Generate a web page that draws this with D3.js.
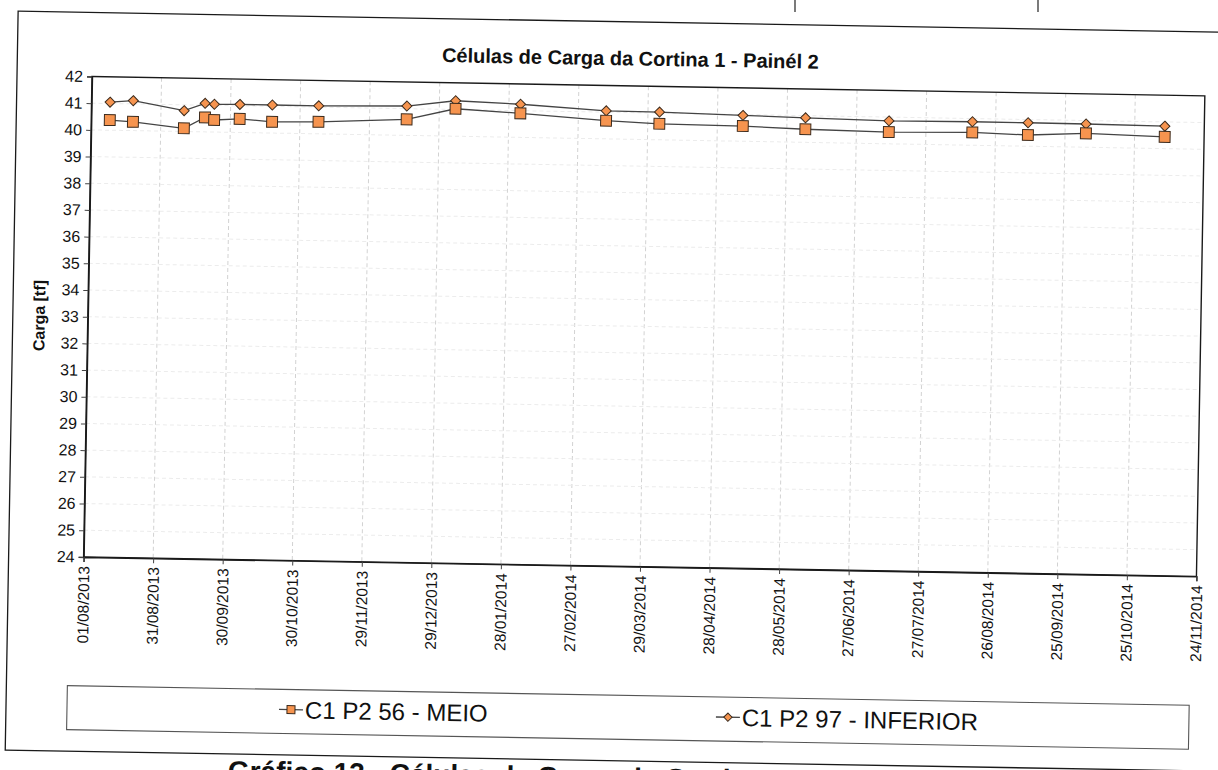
<!DOCTYPE html>
<html>
<head>
<meta charset="utf-8">
<script src="https://cdn.jsdelivr.net/npm/d3@7"></script>
<style>
  html, body { margin: 0; padding: 0; background: #fff; }
  svg { display: block; }
  text { font-family: "Liberation Sans", Arial, sans-serif; fill: #111; }
</style>
</head>
<body>
<svg id="chart" width="1218" height="770"></svg>
<script>
// Reading dates (dd/mm/yyyy)
const readingDates = [
  "09/08/2013", "19/08/2013", "10/09/2013", "19/09/2013", "23/09/2013",
  "04/10/2013", "18/10/2013", "07/11/2013", "15/12/2013", "05/01/2014",
  "02/02/2014", "11/03/2014", "03/04/2014", "09/05/2014", "05/06/2014",
  "11/07/2014", "16/08/2014", "09/09/2014", "04/10/2014", "07/11/2014"
];

// Load cell C1 P2 56 - MEIO [tf]
const meioValues = [
  40.38, 40.33, 40.12, 40.54, 40.45, 40.51, 40.42, 40.45, 40.60, 41.03,
  40.90, 40.68, 40.60, 40.57, 40.49, 40.44, 40.48, 40.42, 40.52, 40.44
];

// Load cell C1 P2 97 - INFERIOR [tf]
const inferiorValues = [
  41.05, 41.12, 40.78, 41.07, 41.04, 41.05, 41.05, 41.05, 41.10, 41.33,
  41.24, 41.05, 41.04, 40.97, 40.92, 40.86, 40.88, 40.88, 40.87, 40.84
];

// Date axis labels (30-day steps)
const xTickLabels = [
  "01/08/2013", "31/08/2013", "30/09/2013", "30/10/2013", "29/11/2013",
  "29/12/2013", "28/01/2014", "27/02/2014", "29/03/2014", "28/04/2014",
  "28/05/2014", "27/06/2014", "27/07/2014", "26/08/2014", "25/09/2014",
  "25/10/2014", "24/11/2014"
];

// Load axis labels
const yTickValues = [24, 25, 26, 27, 28, 29, 30, 31, 32, 33, 34, 35, 36, 37, 38, 39, 40, 41, 42];

const seriesNames = ["C1 P2 56 - MEIO", "C1 P2 97 - INFERIOR"];
const titleText = "Células de Carga da Cortina 1 - Painél 2";
const yAxisTitle = "Carga [tf]";
const captionText = "Gráfico 13 - Células de Carga da Cortina 1 - Painél 2";

const parse = d3.utcParse("%d/%m/%Y");
const fmt = d3.utcFormat("%d/%m/%Y");

const meio = readingDates.map((d, i) => ({ date: parse(d), value: meioValues[i] }));
const inferior = readingDates.map((d, i) => ({ date: parse(d), value: inferiorValues[i] }));
const xTicks = xTickLabels.map(parse);

const svg = d3.select("#chart");
svg.append("rect").attr("width", 1218).attr("height", 770).attr("fill", "#fff");

// Rules of the surrounding page table
svg.append("g").attr("stroke", "#222").attr("stroke-width", 1.2)
  .selectAll("line").data([795, 1038]).join("line")
  .attr("x1", d => d).attr("x2", d => d).attr("y1", 0).attr("y2", 12);

// Plot geometry
const plot = { left: 92, top: 76.5, width: 1113, height: 480.5 };

// The whole sheet sits slightly skewed on the page
const page = svg.append("g")
  .attr("transform", `rotate(1, ${plot.left}, ${plot.top})`);

// Outer chart frame
page.append("rect")
  .attr("x", 17).attr("y", 12.5).attr("width", 1320).attr("height", 739)
  .attr("fill", "none").attr("stroke", "#1a1a1a").attr("stroke-width", 1.3);

// Caption under the chart (runs past the bottom of the page)
page.append("text")
  .attr("x", 240).attr("y", 778)
  .attr("font-size", 28).attr("font-weight", "bold")
  .text(captionText);

// Title
page.append("text")
  .attr("x", 630).attr("y", 56)
  .attr("text-anchor", "middle")
  .attr("font-size", 20).attr("font-weight", "bold")
  .text(titleText);

const x = d3.scaleUtc()
  .domain([xTicks[0], xTicks[xTicks.length - 1]])
  .range([0, plot.width]);
const y = d3.scaleLinear()
  .domain([24, 42])
  .range([plot.height, 0]);

const g = page.append("g").attr("transform", `translate(${plot.left},${plot.top})`);

// Gridlines
g.append("g").selectAll("line").data(xTicks.slice(1, -1)).join("line")
  .attr("x1", d => x(d)).attr("x2", d => x(d))
  .attr("y1", 0).attr("y2", plot.height)
  .attr("stroke", "#d2d2d2").attr("stroke-width", 1)
  .attr("stroke-dasharray", "4,3");
g.append("g").selectAll("line").data(yTickValues.slice(1, -1)).join("line")
  .attr("x1", 0).attr("x2", plot.width)
  .attr("y1", d => y(d)).attr("y2", d => y(d))
  .attr("stroke", "#ececec").attr("stroke-width", 1)
  .attr("stroke-dasharray", "4,3");

// Plot frame
g.append("rect")
  .attr("width", plot.width).attr("height", plot.height)
  .attr("fill", "none").attr("stroke", "#1a1a1a").attr("stroke-width", 1.4);

// Y axis
const yAxis = g.append("g")
  .call(d3.axisLeft(y).tickValues(yTickValues).tickSize(5).tickPadding(4).tickFormat(d3.format("d")));
yAxis.select(".domain").attr("stroke", "#1a1a1a").attr("stroke-width", 1.4);
yAxis.selectAll(".tick line").attr("stroke", "#444");
yAxis.selectAll(".tick text")
  .attr("font-family", "Liberation Sans, Arial, sans-serif")
  .attr("font-size", 16).attr("fill", "#111");

// X axis
const xAxis = g.append("g")
  .attr("transform", `translate(0,${plot.height})`)
  .call(d3.axisBottom(x).tickValues(xTicks).tickSize(5).tickFormat(fmt));
xAxis.select(".domain").attr("stroke", "#1a1a1a").attr("stroke-width", 1.4);
xAxis.selectAll(".tick line").attr("stroke", "#444");
xAxis.selectAll(".tick text")
  .attr("font-family", "Liberation Sans, Arial, sans-serif")
  .attr("font-size", 15.5).attr("fill", "#111")
  .attr("transform", "rotate(-90)")
  .attr("text-anchor", "end")
  .attr("x", -9).attr("y", 0).attr("dy", "0.35em");

// Axis title
g.append("text")
  .attr("transform", `translate(${-43},${240}) rotate(-90)`)
  .attr("text-anchor", "middle")
  .attr("font-size", 16).attr("font-weight", "bold")
  .text(yAxisTitle);

// Series
const line = d3.line().x(d => x(d.date)).y(d => y(d.value));
const markerFill = "#f6944f";
const markerStroke = "#3b2a1c";
const lineColor = "#444";

[meio, inferior].forEach(s => {
  g.append("path").datum(s)
    .attr("d", line)
    .attr("fill", "none").attr("stroke", lineColor).attr("stroke-width", 1.3);
});

const square = d3.symbol().type(d3.symbolSquare).size(118);
const diamond = d3.symbol().type(d3.symbolDiamond2).size(64);

g.append("g").selectAll("path").data(inferior).join("path")
  .attr("transform", d => `translate(${x(d.date)},${y(d.value)})`)
  .attr("d", diamond)
  .attr("fill", markerFill).attr("stroke", markerStroke).attr("stroke-width", 1);

g.append("g").selectAll("path").data(meio).join("path")
  .attr("transform", d => `translate(${x(d.date)},${y(d.value)})`)
  .attr("d", square)
  .attr("fill", markerFill).attr("stroke", markerStroke).attr("stroke-width", 1);

// Legend
const legend = page.append("g");
legend.append("rect")
  .attr("x", 78).attr("y", 686).attr("width", 1122).attr("height", 44)
  .attr("fill", "#fff").attr("stroke", "#555").attr("stroke-width", 1.1);

const legendItems = [
  { name: seriesNames[0], x: 290, kind: "square" },
  { name: seriesNames[1], x: 727, kind: "diamond" }
];
const li = legend.selectAll("g.item").data(legendItems).join("g")
  .attr("class", "item")
  .attr("transform", d => `translate(${d.x},${706})`);
li.append("line")
  .attr("x1", 0).attr("x2", 24).attr("y1", 0).attr("y2", 0)
  .attr("stroke", lineColor).attr("stroke-width", 1.3);
li.append("path")
  .attr("transform", "translate(12,0)")
  .attr("d", d => d.kind === "square"
    ? d3.symbol().type(d3.symbolSquare).size(64)()
    : d3.symbol().type(d3.symbolDiamond2).size(44)())
  .attr("fill", markerFill).attr("stroke", markerStroke).attr("stroke-width", 1);
li.append("text")
  .attr("x", 26).attr("y", 0).attr("dy", "0.36em")
  .attr("font-size", 24)
  .text(d => d.name);
</script>
</body>
</html>
